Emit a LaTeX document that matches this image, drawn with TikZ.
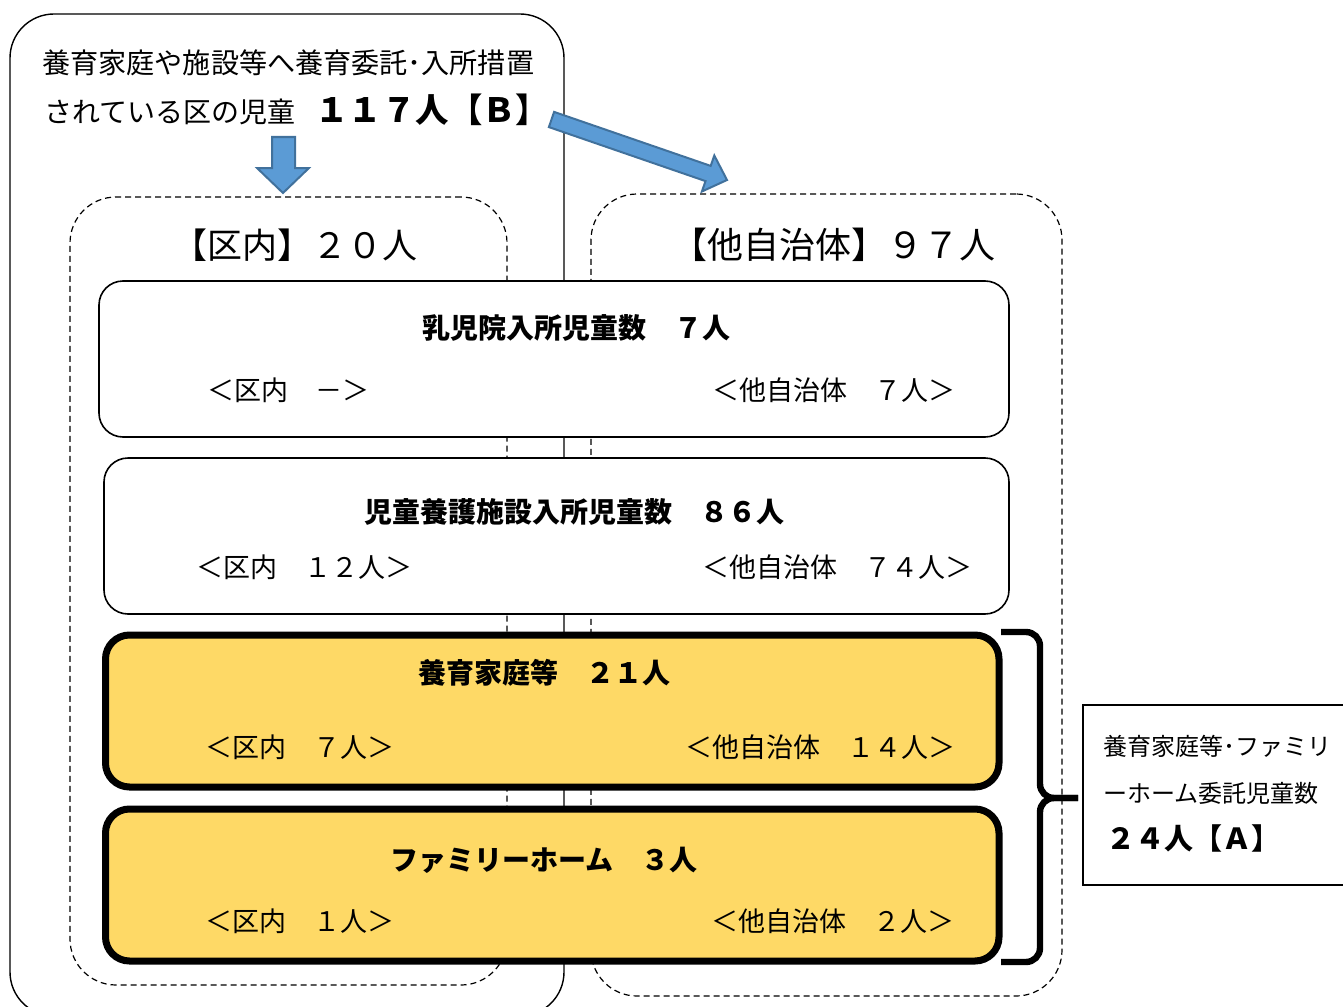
\documentclass[tikz,border=0pt]{standalone}
\usepackage{fontspec}
\setmainfont{Noto Sans CJK JP}
\usepackage{tikz}
\usetikzlibrary{positioning,calc}
\definecolor{fostery}{HTML}{FED966}
\definecolor{arrowfill}{HTML}{5B9BD5}
\definecolor{arrowline}{HTML}{41719C}
\tikzset{
    frame/.style = {
        draw,
        shape=rectangle,
        rounded corners=22pt,
        minimum width=277pt,
        minimum height=501pt,
        line width=0.7pt
    },
    group/.style = {
        draw,
        dashed,
        dash pattern=on 3pt off 2pt,
        shape=rectangle,
        rounded corners=23pt,
        line width=0.6pt
    },
    box/.style = {
        draw,
        fill=white,
        shape=rectangle,
        rounded corners=12pt,
        minimum height=78pt,
        line width=0.8pt
    },
    foster/.style = {
        draw,
        fill=fostery,
        shape=rectangle,
        rounded corners=12pt,
        minimum width=446.75pt,
        minimum height=76pt,
        line width=3.5pt
    },
    total/.style = {
        draw,
        fill=white,
        shape=rectangle,
        minimum width=143.5pt,
        minimum height=90pt,
        line width=0.6pt
    },
    lbl/.style = {inner sep=0pt, font=\fontsize{13.5pt}{16pt}\selectfont},
    head/.style = {inner sep=0pt, font=\bfseries\fontsize{14pt}{17pt}\selectfont},
    title/.style = {inner sep=0pt, font=\fontsize{17.5pt}{20pt}\selectfont},
    note/.style = {inner sep=0pt, font=\fontsize{12pt}{14pt}\selectfont},
    blockarrow/.style = {fill=arrowfill, draw=arrowline, line width=1pt, line join=miter},
    bracket/.style = {line width=3.2pt, rounded corners=7pt},
}

\begin{document}
\begin{tikzpicture}[x=0.5pt, y=-0.5pt]
                \useasboundingbox (0,0) rectangle (1343,1006);
                \clip (0,0) rectangle (1343,1006);

                \node[frame] (ward) at (287,515) {};
                \node[group, minimum width=218.5pt, minimum height=394pt] (inward) at (288.5,591) {};
                \node[group, minimum width=235.5pt, minimum height=401pt] (outward) at (826.5,595) {};

                \node[lbl, anchor=west, font=\fontsize{14.05pt}{17pt}\selectfont] (lead1) at (42,63) {養育家庭や施設等へ養育委託･入所措置};
                \node[lbl, anchor=west, font=\fontsize{14pt}{17pt}\selectfont] (lead2) at (44,110) {されている区の児童\hspace{10pt}{\bfseries\fontsize{16.7pt}{19pt}\selectfont １１７人【Ｂ】}};

                \node[title] (intitle) at (295,245) {【区内】２０人};
                \node[title, font=\fontsize{18pt}{20pt}\selectfont] (outtitle) at (833,245) {【他自治体】９７人};

                \node[box, minimum width=455pt] (nyuji) at (554,359) {};
                \node[box, minimum width=452.5pt] (yougo) at (556.5,536) {};
                \node[foster] (satooya) at (552.25,711) {};
                \node[foster] (family) at (552.25,885) {};

                \node[head] (nyujihead) at (576,328) {乳児院入所児童数　７人};
                \node[lbl] (nyujiin) at (288,390) {＜区内　－＞};
                \node[lbl] (nyujiout) at (834,390) {＜他自治体　７人＞};

                \node[head] (yougohead) at (574,512) {児童養護施設入所児童数　８６人};
                \node[lbl] (yougoin) at (304,567) {＜区内　１２人＞};
                \node[lbl] (yougoout) at (837,567) {＜他自治体　７４人＞};

                \node[head] (satooyahead) at (544,673) {養育家庭等　２１人};
                \node[lbl] (satooyain) at (300,747) {＜区内　７人＞};
                \node[lbl] (satooyaout) at (820,747) {＜他自治体　１４人＞};

                \node[head] (familyhead) at (544,860) {ファミリーホーム　３人};
                \node[lbl] (familyin) at (300,921) {＜区内　１人＞};
                \node[lbl] (familyout) at (833,921) {＜他自治体　２人＞};

                \node[total] (sum) at (1226.5,795) {};
                \node[note, anchor=west] (sum1) at (1103,746) {養育家庭等･ファミリ};
                \node[note, anchor=west] (sum2) at (1103,793) {ーホーム委託児童数};
                \node[head, anchor=west, font=\bfseries\fontsize{14.5pt}{17pt}\selectfont] (sum3) at (1106,838) {２４人【Ａ】};

                \coordinate (bracetip) at (1078,798);
                \path[draw, bracket] (1001,632) -| (1040,798) -- (bracetip);
                \path[draw, bracket] (bracetip) -| (1040,962) -- (1001,962);

                \path[draw, blockarrow] (272,137) -- (295,137) -- (295,168) -- (309,168)
                    -- (283,193) -- (257,168) -- (272,168) -- cycle;
                \path[draw, blockarrow] (548.9,127.1) -- (554.1,111.9) -- (710.7,165.9) -- (714.3,155.5)
                    -- (727,180) -- (701.9,191.5) -- (705.5,181.1) -- cycle;
\end{tikzpicture}
\end{document}
